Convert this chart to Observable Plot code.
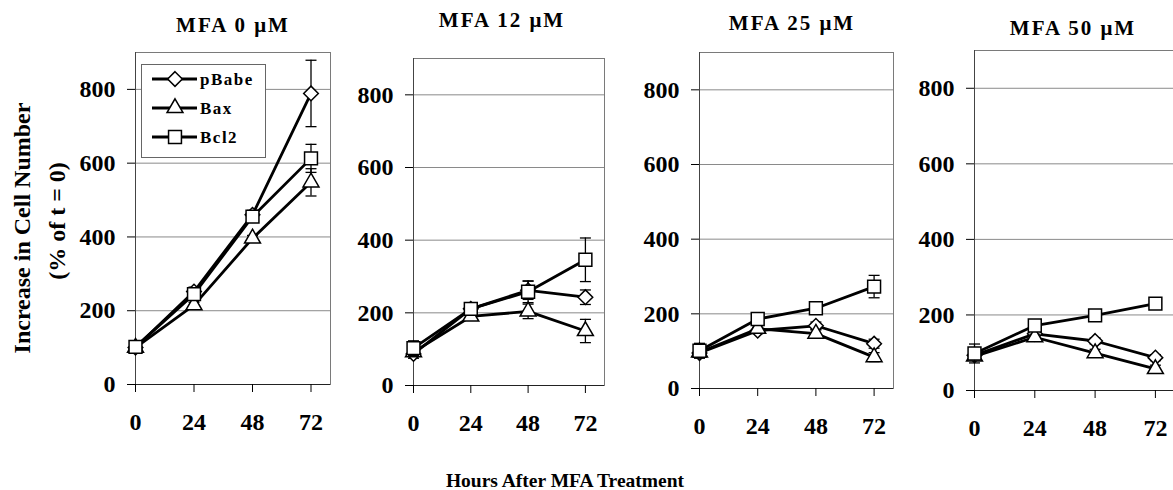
<!DOCTYPE html>
<html>
<head>
<meta charset="utf-8">
<script src="https://cdn.jsdelivr.net/npm/d3@7"></script>
<script src="https://cdn.jsdelivr.net/npm/@observablehq/plot@0.6"></script>
<style>
  html, body { margin: 0; padding: 0; background: #fff; }
  #chart { position: relative; width: 1173px; height: 490px; overflow: hidden; background: #fff;
           font-family: "Liberation Serif", "Times New Roman", serif; color: #000; }
  #chart svg.panel { position: absolute; overflow: visible; }
  #overlay { position: absolute; left: 0; top: 0; pointer-events: none; }
</style>
</head>
<body>
<div id="chart"></div>
<script>
// ---------- data ----------
const hours = [0, 24, 48, 72];
const panelTitles = ["MFA 0 μM", "MFA 12 μM", "MFA 25 μM", "MFA 50 μM"];
const seriesNames = ["pBabe", "Bax", "Bcl2"];
const yTicks = [0, 200, 400, 600, 800];
const yGrid = [200, 400, 600, 800];

// one row per panel (0, 12, 25, 50 μM), one value per hour
const pBabeMean = [[100, 252, 460, 789], [87, 211, 262, 243], [95, 155, 168, 120], [93, 150, 131, 87]];
const pBabeErr  = [[10, 12, 12, 90],     [12, 12, 25, 20],    [10, 8, 10, 12],     [8, 8, 8, 8]];
const baxMean   = [[100, 215, 396, 548], [92, 190, 204, 150], [97, 160, 147, 84],  [90, 141, 99, 57]];
const baxErr    = [[8, 8, 8, 37],        [8, 10, 20, 32],     [8, 8, 10, 12],      [8, 8, 10, 10]];
const bcl2Mean  = [[102, 245, 455, 613], [103, 211, 258, 346], [101, 186, 215, 273], [98, 172, 199, 230]];
const bcl2Err   = [[10, 15, 15, 38],     [20, 15, 30, 60],    [20, 10, 8, 30],     [25, 15, 8, 8]];

const means = {pBabe: pBabeMean, Bax: baxMean, Bcl2: bcl2Mean};
const errs = {pBabe: pBabeErr, Bax: baxErr, Bcl2: bcl2Err};

const table = [];
panelTitles.forEach((t, p) => seriesNames.forEach(s => hours.forEach((h, i) => {
  table.push({panel: p, series: s, hour: h, value: means[s][p][i], err: errs[s][p][i]});
})));

// ---------- style / layout ----------
const FONT = '"Liberation Serif", "Times New Roman", serif';
const symbols = {pBabe: "diamond2", Bax: "triangle2", Bcl2: "square2"};
const symR = {pBabe: 6.6, Bax: 7.6, Bcl2: 8.2};
const capSymbol = {draw(ctx, size) { const w = Math.sqrt(size / Math.PI); ctx.moveTo(-w, 0); ctx.lineTo(w, 0); }};

// frame (inner plot area) of each panel in page pixels
const frames = [
  {left: 135, top: 52, w: 195, h: 332},
  {left: 413, top: 58, w: 191, h: 327},
  {left: 699, top: 52, w: 194, h: 336},
  {left: 974, top: 50, w: 201, h: 340}
];
const M = {left: 70, right: 2, top: 2, bottom: 60};
const axisText = {fontFamily: FONT, fontSize: 24, fontWeight: "bold", fill: "black", stroke: "black"};

const chart = document.getElementById("chart");

frames.forEach((f, p) => {
  const rows = table.filter(d => d.panel === p);
  const marks = [
    Plot.ruleY(yGrid, {stroke: "#8a8a8a", strokeWidth: 1}),
    Plot.frame({stroke: "#7a7a7a", strokeWidth: 1}),
    Plot.ruleY([0], {stroke: "#222", strokeWidth: 1.2}),
    Plot.ruleX([0], {stroke: "#444", strokeWidth: 1}),
    Plot.axisY({ticks: yTicks, tickSize: 8, tickPadding: 12, label: null, tickFormat: d => String(d), ...axisText}),
    Plot.axisX({ticks: hours, tickSize: 8, tickPadding: 20, label: null, tickFormat: d => String(d), ...axisText})
  ];
  seriesNames.forEach(s => {
    const r = rows.filter(d => d.series === s);
    marks.push(Plot.line(r, {x: "hour", y: "value", stroke: "black", strokeWidth: 2.8}));
    marks.push(Plot.ruleX(r, {x: "hour", y1: d => d.value - d.err, y2: d => d.value + d.err, stroke: "black", strokeWidth: 1.3}));
    marks.push(Plot.dot(r, {x: "hour", y: d => d.value + d.err, symbol: capSymbol, r: 5.5, fill: "none", stroke: "black", strokeWidth: 1.3}));
    marks.push(Plot.dot(r, {x: "hour", y: d => d.value - d.err, symbol: capSymbol, r: 5.5, fill: "none", stroke: "black", strokeWidth: 1.3}));
    marks.push(Plot.dot(r, {x: "hour", y: "value", symbol: symbols[s], r: symR[s], fill: "white", stroke: "black", strokeWidth: 1.5}));
  });
  const svg = Plot.plot({
    width: M.left + f.w + M.right,
    height: M.top + f.h + M.bottom,
    marginLeft: M.left, marginRight: M.right, marginTop: M.top, marginBottom: M.bottom,
    x: {domain: [0, 80]},
    y: {domain: [0, 900]},
    style: {fontFamily: FONT, fontSize: "24px", fontWeight: "bold", color: "black", background: "transparent", overflow: "visible"},
    marks
  });
  svg.classList.add("panel");
  svg.style.left = (f.left - M.left) + "px";
  svg.style.top = (f.top - M.top) + "px";
  chart.appendChild(svg);
});

// ---------- overlay text: titles, axis labels, legend ----------
const ov = d3.select(chart).append("svg").attr("id", "overlay")
  .attr("width", 1173).attr("height", 490)
  .style("font-family", FONT).style("font-weight", "bold");

const titlePos = [{x: 233, y: 32}, {x: 502, y: 27}, {x: 792, y: 30}, {x: 1073, y: 35}];
panelTitles.forEach((t, i) => {
  ov.append("text").attr("x", titlePos[i].x).attr("y", titlePos[i].y)
    .attr("text-anchor", "middle").attr("font-size", 21).attr("letter-spacing", 2).text(t);
});

ov.append("text").attr("transform", "translate(22,228) rotate(-90)")
  .attr("text-anchor", "middle").attr("dominant-baseline", "central").attr("font-size", 24)
  .text("Increase in Cell Number");
ov.append("text").attr("transform", "translate(57,221) rotate(-90)")
  .attr("text-anchor", "middle").attr("dominant-baseline", "central").attr("font-size", 24)
  .text("(% of t = 0)");

ov.append("text").attr("x", 565).attr("y", 487).attr("text-anchor", "middle")
  .attr("font-size", 19.5).text("Hours After MFA Treatment");

// legend
const lg = ov.append("g");
lg.append("rect").attr("x", 141.5).attr("y", 64.5).attr("width", 124).attr("height", 93)
  .attr("fill", "white").attr("stroke", "#666").attr("stroke-width", 1);
const d3sym = {pBabe: d3.symbolDiamond2, Bax: d3.symbolTriangle2, Bcl2: d3.symbolSquare2};
const legY = [79, 108, 137];
seriesNames.forEach((s, i) => {
  const y = legY[i];
  lg.append("line").attr("x1", 152).attr("x2", 197).attr("y1", y).attr("y2", y)
    .attr("stroke", "black").attr("stroke-width", 2.8);
  lg.append("path").attr("transform", `translate(175,${y})`)
    .attr("d", d3.symbol(d3sym[s], symR[s] * symR[s] * Math.PI)())
    .attr("fill", "white").attr("stroke", "black").attr("stroke-width", 1.5);
  lg.append("text").attr("x", 200).attr("y", y).attr("dominant-baseline", "central")
    .attr("font-size", 17).attr("letter-spacing", 1.5).text(s);
});
</script>
</body>
</html>
